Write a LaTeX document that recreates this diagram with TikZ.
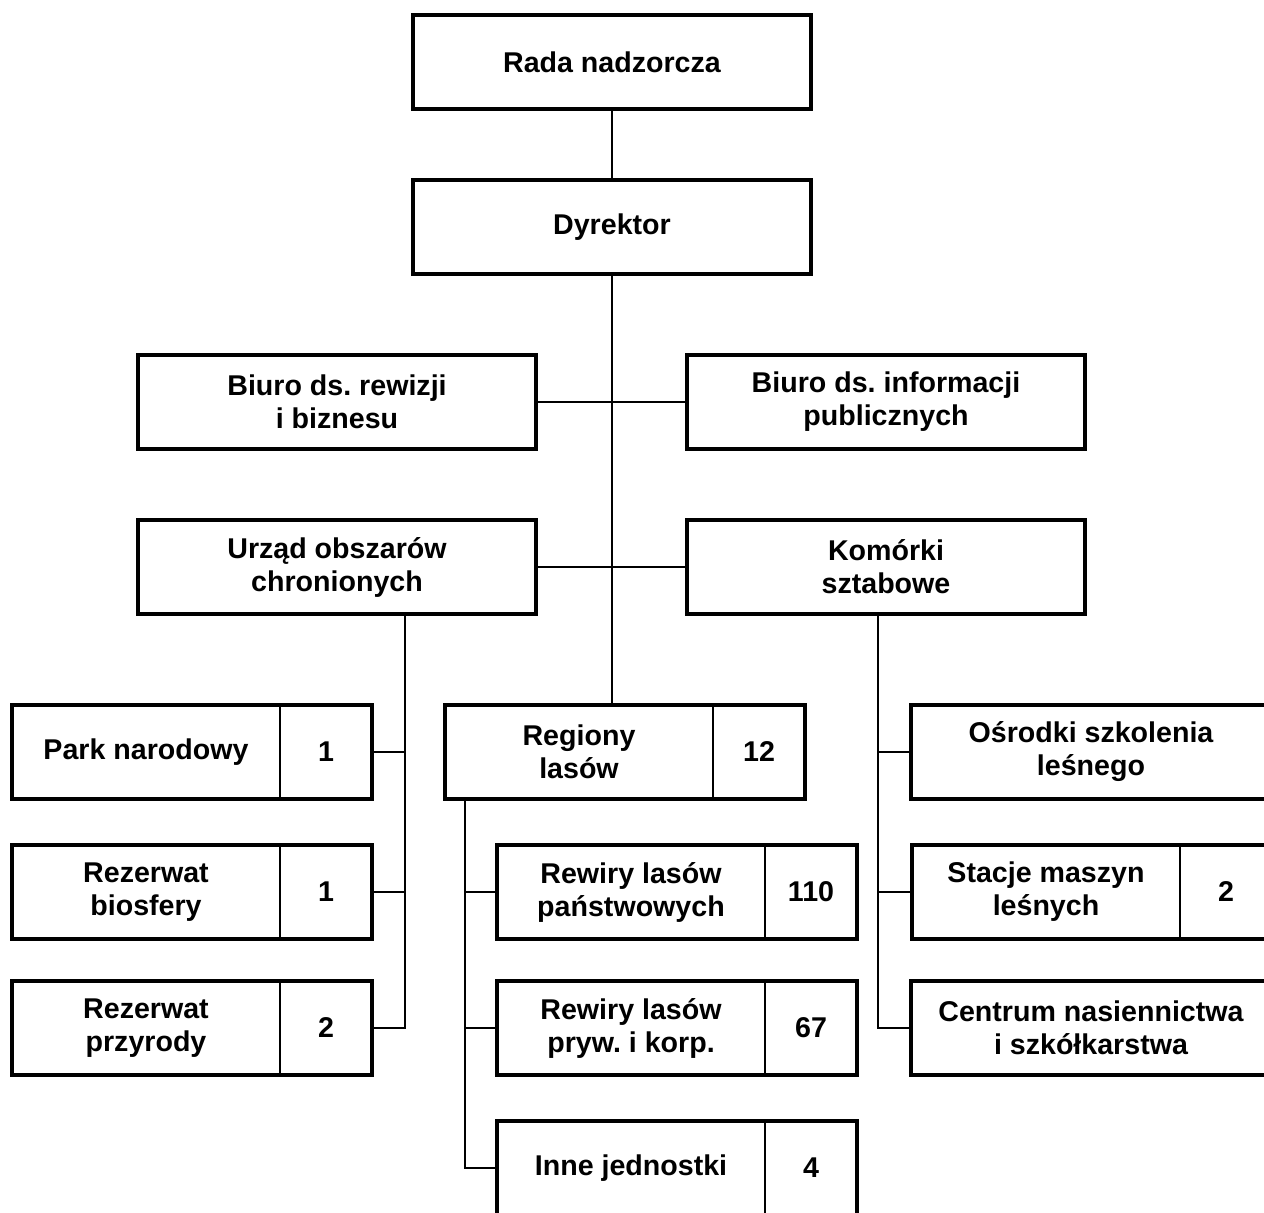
\documentclass[tikz,border=0pt]{standalone}
\usepackage{fontspec}
\setmainfont{Liberation Sans}
\frenchspacing

\begin{document}
\begin{tikzpicture}[x=0.5pt,y=-0.5pt]
    \tikzstyle{every node}+=[inner sep=0pt, outer sep=0pt]
    \tikzstyle{unit}=[draw=black, line width=1.6pt, minimum width=199pt, minimum height=47pt, align=center, font=\bfseries\fontsize{14.3}{16.5}\selectfont]
    \tikzstyle{wideunit}=[unit, minimum width=180pt]
    \tikzstyle{part}=[unit, draw=none, minimum width=134pt]
    \tikzstyle{numbox}=[unit, draw=none, minimum width=46pt, anchor=west]
    \tikzstyle{frame}=[black, line width=1.6pt]
    \tikzstyle{divider}=[black, line width=0.9pt]
    \tikzstyle{link}=[black, line width=1.3pt]
    \useasboundingbox (0,0) rectangle (1264,1213);
    \clip (0,0) rectangle (1264,1213);
    % top of the chart
    \node [unit] (rada) at (612,62) {Rada nadzorcza};
    \node [unit] (dyr) at (612,227) {Dyrektor};
    \node [unit] (brev) at (337,402) {Biuro ds. rewizji\\i biznesu};
    \node [unit] (binf) at (886,402) {Biuro ds. informacji\\publicznych};
    \node [unit] (urz) at (337,567) {Urząd obszarów\\chronionych};
    \node [unit] (kom) at (886,567) {Komórki\\sztabowe};
    % left column
    \node [part] (pn) at (146,752) {Park narodowy};
    \node [numbox] (pn-n) at (pn.east) {1};
    \node [part] (rbio) at (146,892) {Rezerwat\\biosfery};
    \node [numbox] (rbio-n) at (rbio.east) {1};
    \node [part] (rprz) at (146,1028) {Rezerwat\\przyrody};
    \node [numbox] (rprz-n) at (rprz.east) {2};
    % middle column
    \node [part] (reg) at (579,752) {Regiony\\lasów};
    \node [numbox] (reg-n) at (reg.east) {12};
    \node [part] (rwp) at (631,892) {Rewiry lasów\\państwowych};
    \node [numbox] (rwp-n) at (rwp.east) {110};
    \node [part] (rwk) at (631,1028) {Rewiry lasów\\pryw. i korp.};
    \node [numbox] (rwk-n) at (rwk.east) {67};
    \node [part] (inne) at (631,1168) {Inne jednostki};
    \node [numbox] (inne-n) at (inne.east) {4};
    % right column
    \node [wideunit] (osr) at (1091,752) {Ośrodki szkolenia\\leśnego};
    \node [part] (stc) at (1046,892) {Stacje maszyn\\leśnych};
    \node [numbox] (stc-n) at (stc.east) {2};
    \node [wideunit] (cen) at (1091,1028) {Centrum nasiennictwa\\i szkółkarstwa};
    % frames of the split boxes
    \draw [frame] (pn.north west) rectangle (pn-n.south east);
    \draw [divider] (pn.north east) -- (pn.south east);
    \draw [frame] (rbio.north west) rectangle (rbio-n.south east);
    \draw [divider] (rbio.north east) -- (rbio.south east);
    \draw [frame] (rprz.north west) rectangle (rprz-n.south east);
    \draw [divider] (rprz.north east) -- (rprz.south east);
    \draw [frame] (reg.north west) rectangle (reg-n.south east);
    \draw [divider] (reg.north east) -- (reg.south east);
    \draw [frame] (rwp.north west) rectangle (rwp-n.south east);
    \draw [divider] (rwp.north east) -- (rwp.south east);
    \draw [frame] (rwk.north west) rectangle (rwk-n.south east);
    \draw [divider] (rwk.north east) -- (rwk.south east);
    \draw [frame] (inne.north west) rectangle (inne-n.south east);
    \draw [divider] (inne.north east) -- (inne.south east);
    \draw [frame] (stc.north west) rectangle (stc-n.south east);
    \draw [divider] (stc.north east) -- (stc.south east);
    % connectors
    \draw [link] (rada.south) -- (dyr.north);
    \draw [link] (dyr.south) -- (dyr.south |- reg.north);
    \draw [link] (brev.east) -- (binf.west);
    \draw [link] (urz.east) -- (kom.west);
    \coordinate (lbus) at (405,614);
    \draw [link] (lbus) |- (rprz-n.east);
    \draw [link] (pn-n.east) -- (pn-n.east -| lbus);
    \draw [link] (rbio-n.east) -- (rbio-n.east -| lbus);
    \coordinate (rbus) at (465,799);
    \draw [link] (rbus) |- (inne.west);
    \draw [link] (rwp.west) -- (rwp.west -| rbus);
    \draw [link] (rwk.west) -- (rwk.west -| rbus);
    \coordinate (kbus) at (878,614);
    \draw [link] (kbus) |- (cen.west);
    \draw [link] (osr.west) -- (osr.west -| kbus);
    \draw [link] (stc.west) -- (stc.west -| kbus);
\end{tikzpicture}
\end{document}
